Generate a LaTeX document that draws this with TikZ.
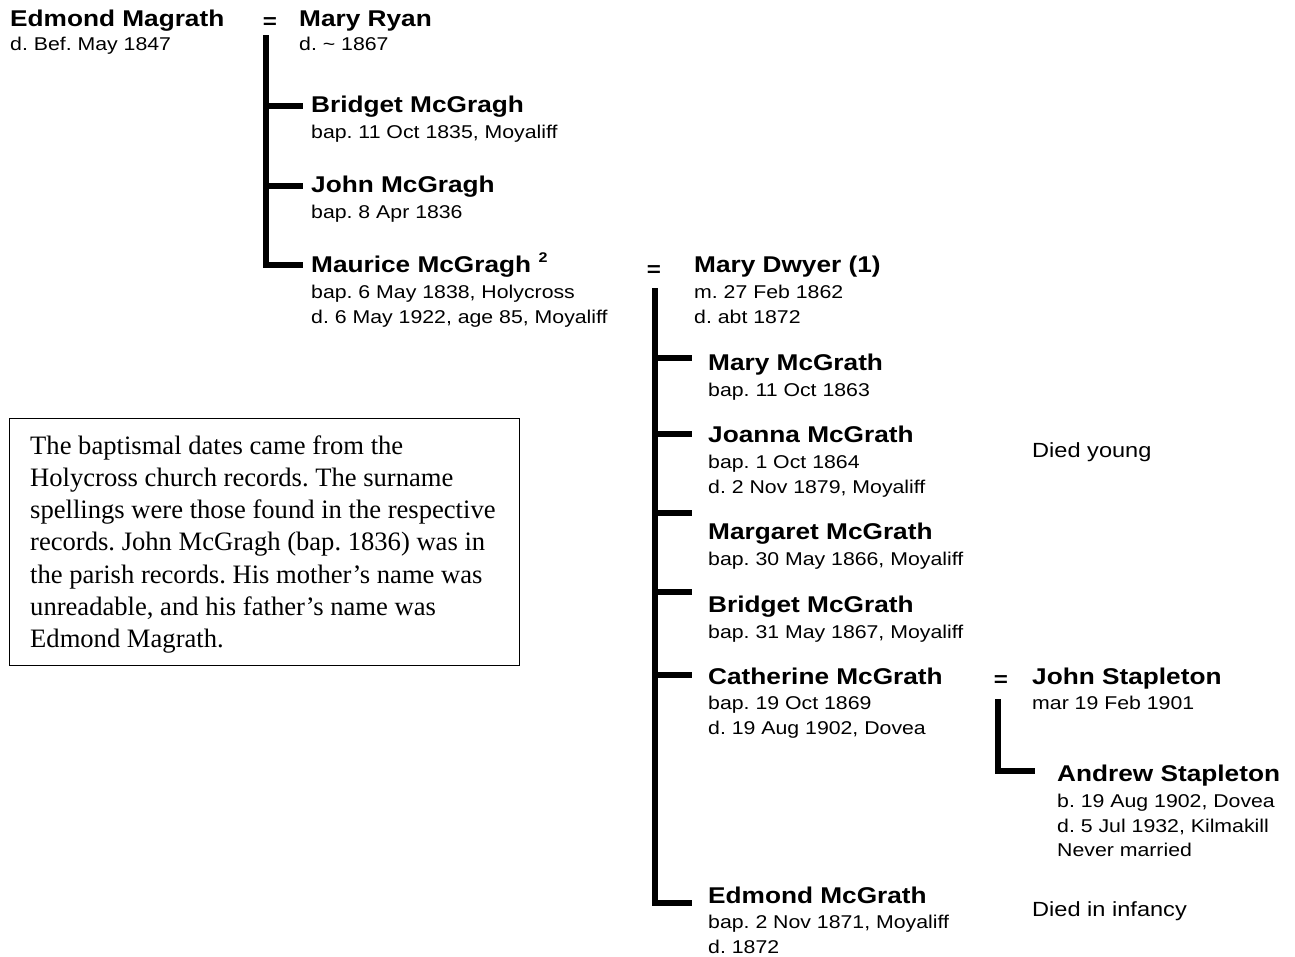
\documentclass[tikz,border=0pt]{standalone}
\usepackage{fontspec}
\newfontfamily\arialx{Liberation Sans}[FakeStretch=1.15]
\newfontfamily\timesx{Liberation Serif}
\frenchspacing
\tikzset{
  pname/.style={anchor=base west, inner sep=0pt, font=\arialx\bfseries\fontsize{22.8}{26}\selectfont},
  pdet/.style={anchor=base west, inner sep=0pt, font=\arialx\fontsize{18.5}{24.7}\selectfont},
  pnote/.style={anchor=base west, inner sep=0pt, font=\arialx\fontsize{20.5}{24}\selectfont},
  eqs/.style={anchor=base, inner sep=0pt, font=\arialx\bfseries\fontsize{21}{24}\selectfont},
  tree/.style={line width=5.5pt, line join=miter},
}
\newcommand{\lines}[1]{\begin{tabular}[t]{@{}l@{}}#1\end{tabular}}
\begin{document}
\begin{tikzpicture}[x=1pt,y=-1pt]
\useasboundingbox (0,0) rectangle (1295,956);
\fill[white] (0,0) rectangle (1295,956);

% generation 1
\node[pname] (em) at (10,26) {Edmond Magrath};
\node[pdet] (emd) at (10,50) {d. Bef. May 1847};
\node[eqs] (eq1) at (270,28) {=};
\node[pname] (mr) at (299,26) {Mary Ryan};
\node[pdet] (mrd) at (299,50) {d. \textasciitilde{} 1867};

\node[pname] (bmg) at (311,112) {Bridget McGragh};
\node[pdet] (bmgd) at (311,138.5) {bap. 11 Oct 1835, Moyaliff};
\node[pname] (jmg) at (311,192) {John McGragh};
\node[pdet] (jmgd) at (311,218.5) {bap. 8 Apr 1836};
\node[pname] (mmg) at (311,272) {Maurice McGragh {\fontsize{14}{16}\selectfont\raisebox{10pt}{2}}};
\node[pdet] (mmgd) at (311,298.5) {\lines{bap. 6 May 1838, Holycross\\d. 6 May 1922, age 85, Moyaliff}};

\coordinate (a0) at (266,35);
\coordinate (a3) at (266,265);
\coordinate (a1) at (266,106);
\coordinate (a2) at (266,186);
\coordinate (a1e) at (303,106);
\coordinate (a2e) at (303,186);
\coordinate (a3e) at (303,265);
\draw[tree] (a0) -- (a3) -- (a3e);
\draw[tree] (a1) -- (a1e);
\draw[tree] (a2) -- (a2e);

% generation 2
\node[eqs] (eq2) at (654,276) {=};
\node[pname] (md) at (694,272) {Mary Dwyer (1)};
\node[pdet] (mdd) at (694,298.5) {\lines{m. 27 Feb 1862\\d. abt 1872}};

\node[pname] (mary) at (708,370) {Mary McGrath};
\node[pdet] (maryd) at (708,396.5) {bap. 11 Oct 1863};
\node[pname] (jo) at (708,442) {Joanna McGrath};
\node[pdet] (jod) at (708,468.5) {\lines{bap. 1 Oct 1864\\d. 2 Nov 1879, Moyaliff}};
\node[pnote] (jon) at (1032,457) {Died young};
\node[pname] (mar) at (708,539) {Margaret McGrath};
\node[pdet] (mard) at (708,565.5) {bap. 30 May 1866, Moyaliff};
\node[pname] (bri) at (708,612) {Bridget McGrath};
\node[pdet] (brid) at (708,638.5) {bap. 31 May 1867, Moyaliff};
\node[pname] (cat) at (708,684) {Catherine McGrath};
\node[pdet] (catd) at (708,709.5) {\lines{bap. 19 Oct 1869\\d. 19 Aug 1902, Dovea}};
\node[pname] (edm) at (708,903) {Edmond McGrath};
\node[pdet] (edmd) at (708,928.5) {\lines{bap. 2 Nov 1871, Moyaliff\\d. 1872}};
\node[pnote] (edmn) at (1032,916) {Died in infancy};

\coordinate (b0) at (655,288);
\coordinate (b6) at (655,903);
\coordinate (b6e) at (692,903);
\draw[tree] (b0) -- (b6) -- (b6e);
\foreach \yy in {358,434,513,592,675}{
  \draw[tree] (655,\yy) -- (692,\yy);
}

% generation 3
\node[eqs] (eq3) at (1001,686) {=};
\node[pname] (js) at (1032,684) {John Stapleton};
\node[pdet] (jsd) at (1032,709.5) {mar 19 Feb 1901};
\node[pname] (as) at (1057,781) {Andrew Stapleton};
\node[pdet] (asd) at (1057,807.5) {\lines{b. 19 Aug 1902, Dovea\\d. 5 Jul 1932, Kilmakill\\Never married}};
\coordinate (c0) at (998,699);
\coordinate (c1) at (998,771);
\coordinate (c1e) at (1035,771);
\draw[tree] (c0) -- (c1) -- (c1e);

% note box
\node[draw, line width=1.3pt, anchor=north west, minimum width=510pt, minimum height=247pt, inner sep=0pt] (box) at (9,418) {};
\node[anchor=base west, inner sep=0pt, font=\timesx\fontsize{26.6}{32.3}\selectfont] (note) at (30,454)
 {\lines{The baptismal dates came from the\\Holycross church records. The surname\\spellings were those found in the respective\\records. John McGragh (bap. 1836) was in\\the parish records. His mother’s name was\\unreadable, and his father’s name was\\Edmond Magrath.}};
\end{tikzpicture}
\end{document}
